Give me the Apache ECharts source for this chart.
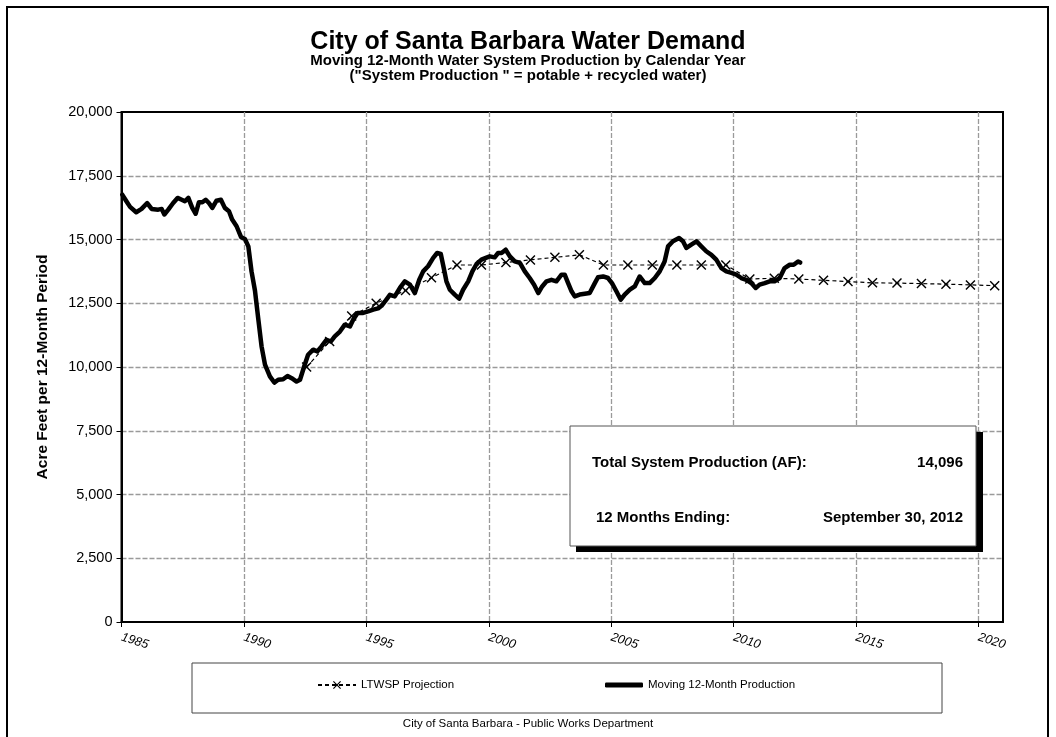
<!DOCTYPE html>
<html><head><meta charset="utf-8">
<script src="https://cdn.jsdelivr.net/npm/echarts@6/dist/echarts.min.js"></script>
<style>html,body{margin:0;padding:0;background:#fff}#c{width:1056px;height:737px}</style>
</head><body><div id="c"></div>
<script>
// ---- data ----
const productionYears = [
1985.03,1985.2,1985.35,1985.6,1985.82,1986.05,1986.23,1986.5,1986.64,1986.75,1986.91,
1987.11,1987.29,1987.46,1987.59,1987.73,1987.89,1988.03,1988.16,1988.3,1988.44,1988.57,
1988.71,1988.88,1989.06,1989.22,1989.39,1989.52,1989.7,1989.88,1990.04,1990.18,1990.31,
1990.45,1990.59,1990.72,1990.86,1991.06,1991.24,1991.4,1991.6,1991.78,1991.95,1992.15,
1992.29,1992.46,1992.62,1992.83,1993.0,1993.17,1993.37,1993.55,1993.71,1993.92,1994.12,
1994.33,1994.46,1994.64,1994.87,1995.07,1995.28,1995.48,1995.62,1995.76,1995.96,1996.16,
1996.37,1996.57,1996.78,1996.98,1997.16,1997.32,1997.52,1997.73,1997.89,1998.04,1998.16,
1998.27,1998.41,1998.61,1998.79,1998.95,1999.16,1999.33,1999.5,1999.7,1999.88,2000.04,
2000.24,2000.38,2000.52,2000.69,2000.86,2001.06,2001.27,2001.47,2001.67,2001.85,2002.02,
2002.18,2002.36,2002.56,2002.76,2002.97,2003.1,2003.24,2003.38,2003.51,2003.71,2003.92,
2004.12,2004.33,2004.46,2004.67,2004.87,2005.03,2005.21,2005.39,2005.55,2005.76,2005.96,
2006.16,2006.37,2006.57,2006.78,2006.98,2007.18,2007.32,2007.52,2007.77,2007.93,2008.07,
2008.27,2008.48,2008.68,2008.88,2009.09,2009.29,2009.5,2009.7,2009.91,2010.11,2010.31,
2010.52,2010.72,2010.9,2011.06,2011.27,2011.47,2011.67,2011.88,2012.08,2012.29,2012.45,
2012.63,2012.72];
const productionValues = [
16760,16500,16280,16070,16200,16430,16200,16170,16200,15980,16170,
16430,16630,16560,16500,16630,16240,16010,16460,16460,16560,16430,
16240,16520,16560,16240,16110,15780,15520,15100,15020,14730,13750,
13000,11850,10810,10090,9630,9390,9500,9520,9650,9560,9430,
9500,10020,10480,10680,10610,10810,11070,11000,11200,11390,11660,
11590,11850,12120,12120,12180,12250,12300,12400,12570,12830,12770,
13100,13360,13230,12900,13420,13750,13950,14280,14470,14430,13880,
13360,13030,12840,12680,13030,13360,13750,14040,14210,14280,14340,
14300,14470,14470,14600,14340,14140,14080,13750,13490,13230,12900,
13160,13360,13420,13360,13620,13620,13290,12970,12770,12840,12870,
12900,13290,13520,13550,13490,13290,12970,12640,12840,13030,13160,
13550,13290,13290,13490,13750,14140,14730,14930,15060,14930,14670,
14800,14930,14730,14540,14400,14210,13880,13750,13690,13620,13490,
13420,13290,13100,13230,13290,13360,13360,13490,13880,14010,14010,
14140,14096];
const projectionYears = [1992.56,1993.5,1994.4,1995.4,1996.6,1997.66,1998.7,1999.7,2000.7,2001.7,
2002.7,2003.7,2004.68,2005.68,2006.68,2007.68,2008.68,2009.68,2010.66,2011.66,2012.66,
2013.67,2014.67,2015.67,2016.67,2017.67,2018.67,2019.67,2020.66];
const projectionValues = [10000,11000,12000,12500,13000,13500,14000,14000,14100,14200,
14300,14400,14000,14000,14000,14000,14000,14000,13450,13480,13450,13400,13350,13300,
13290,13270,13250,13220,13190];
const seriesNames = ['LTWSP Projection', 'Moving 12-Month Production'];
const titleText = 'City of Santa Barbara Water Demand';
const subtitleLines = ['Moving 12-Month Water System Production by Calendar Year',
  '("System Production " = potable + recycled water)'];
const yAxisTitle = 'Acre Feet per 12-Month Period';
const boxLabels = ['Total System Production (AF):', '12 Months Ending:'];
const boxValues = ['14,096', 'September 30, 2012'];
const footerText = 'City of Santa Barbara - Public Works Department';
const xMin = 1985, xMax = 2021, xStep = 5;
const yMin = 0, yMax = 20000, yStep = 2500;

// ---- chart ----
const SANS = "'Liberation Sans', Arial, sans-serif";
const XMARK = 'path://M0,1L1,0L5,4L9,0L10,1L6,5L10,9L9,10L5,6L1,10L0,9L4,5Z';

const chart = echarts.init(document.getElementById('c'), null, {renderer: 'canvas'});
const gridStyle = {show: true, showMinLine: false, showMaxLine: false,
  lineStyle: {color: '#9a9a9a', width: 1.3, type: [5, 2]}};
chart.setOption({
  animation: false,
  backgroundColor: '#fff',
  title: [
    {text: titleText, left: 'center', top: 25,
     textStyle: {fontFamily: SANS, fontSize: 25, fontWeight: 'bold', color: '#000'}},
    {text: subtitleLines[0], left: 'center', top: 48,
     textStyle: {fontFamily: SANS, fontSize: 15, fontWeight: 'bold', color: '#000'}},
    {text: subtitleLines[1], left: 'center', top: 63,
     textStyle: {fontFamily: SANS, fontSize: 15, fontWeight: 'bold', color: '#000'}}
  ],
  grid: {left: 121.5, right: 53, top: 112, bottom: 115, show: true,
         borderColor: '#000', borderWidth: 2, backgroundColor: 'transparent'},
  xAxis: {
    type: 'value', min: xMin, max: xMax, interval: xStep,
    axisLine: {show: true, onZero: false, lineStyle: {color: '#000', width: 2}},
    axisTick: {show: true, length: 5, lineStyle: {color: '#000'}},
    splitLine: gridStyle,
    axisLabel: {
      rotate: -17, margin: 15, color: '#000', fontFamily: SANS, fontSize: 12.5, fontStyle: 'italic',
      showMaxLabel: false,
      formatter: v => (v % xStep === 0 ? String(v) : '')
    }
  },
  yAxis: {
    type: 'value', min: yMin, max: yMax, interval: yStep,
    axisLine: {show: true, lineStyle: {color: '#000', width: 2}},
    axisTick: {show: true, length: 5, lineStyle: {color: '#000'}},
    splitLine: gridStyle,
    axisLabel: {color: '#000', fontFamily: SANS, fontSize: 14.5, margin: 9,
      formatter: v => v.toLocaleString('en-US')},
    name: yAxisTitle, nameLocation: 'middle', nameRotate: 90, nameGap: 71,
    nameTextStyle: {fontFamily: SANS, fontSize: 15.5, fontWeight: 'bold', color: '#000'}
  },
  legend: [
    {data: [seriesNames[0]], left: 312, top: 674, selectedMode: false,
     itemWidth: 38, itemHeight: 10, itemGap: 4,
     textStyle: {fontFamily: SANS, fontSize: 11.5, color: '#000'}},
    {data: [{name: seriesNames[1], icon: 'roundRect'}], left: 600, top: 674, selectedMode: false,
     itemWidth: 38, itemHeight: 5,
     textStyle: {fontFamily: SANS, fontSize: 11.5, color: '#000'}}
  ],
  graphic: [
    {type: 'rect', shape: {x: 7, y: 7, width: 1041, height: 760}, silent: true,
     style: {fill: 'none', stroke: '#000', lineWidth: 2}, z: 0},
    {type: 'rect', shape: {x: 192, y: 663, width: 750, height: 50}, silent: true,
     style: {fill: '#fff', stroke: '#444', lineWidth: 1}, z: -1},
    {type: 'text', left: 'center', top: 718, silent: true,
     style: {text: footerText, font: '11.5px ' + SANS, fill: '#000'}},
    {type: 'rect', z: 100, silent: true, shape: {x: 576, y: 432, width: 407, height: 120},
     style: {fill: '#000'}},
    {type: 'rect', z: 101, silent: true, shape: {x: 570, y: 426, width: 406, height: 120},
     style: {fill: '#fff', stroke: '#555', lineWidth: 1}},
    {type: 'text', z: 102, silent: true, x: 592, y: 463,
     style: {text: boxLabels[0], font: 'bold 15px ' + SANS, fill: '#000', verticalAlign: 'middle'}},
    {type: 'text', z: 102, silent: true, x: 963, y: 463,
     style: {text: boxValues[0], font: 'bold 15px ' + SANS, fill: '#000', align: 'right', verticalAlign: 'middle'}},
    {type: 'text', z: 102, silent: true, x: 596, y: 518,
     style: {text: boxLabels[1], font: 'bold 15px ' + SANS, fill: '#000', verticalAlign: 'middle'}},
    {type: 'text', z: 102, silent: true, x: 963, y: 518,
     style: {text: boxValues[1], font: 'bold 15px ' + SANS, fill: '#000', align: 'right', verticalAlign: 'middle'}}
  ],
  series: [
    {name: seriesNames[0], type: 'line', z: 4,
     data: projectionYears.map((y, i) => [y, projectionValues[i]]),
     symbol: XMARK, symbolSize: 10, showSymbol: true,
     itemStyle: {color: '#000'},
     lineStyle: {color: '#000', width: 1.2, type: [4, 3]}},
    {name: seriesNames[1], type: 'line', z: 3,
     data: productionYears.map((y, i) => [y, productionValues[i]]),
     symbol: 'none', showSymbol: false,
     itemStyle: {color: '#000'},
     lineStyle: {color: '#000', width: 4.5, join: 'round', cap: 'round'}}
  ]
});
</script></body></html>
